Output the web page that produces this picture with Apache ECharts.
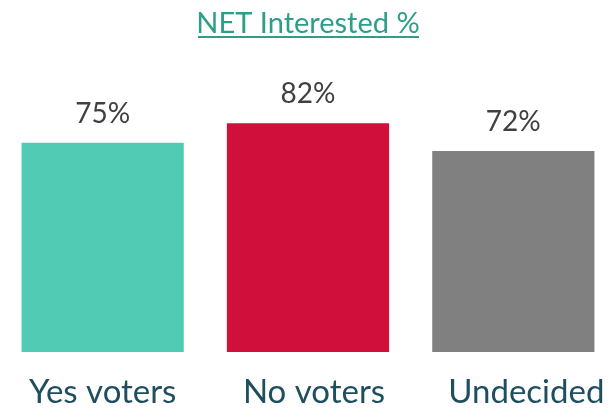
<!DOCTYPE html>
<html>
<head>
<meta charset="utf-8">
<script src="https://cdn.jsdelivr.net/npm/echarts@6/dist/echarts.min.js"></script>
<style>html,body{margin:0;padding:0;background:#fff}#c{width:616px;height:411px}</style>
</head>
<body>
<div id="c"></div>
<script>
const categories = ["Yes voters", "No voters", "Undecided"];
const values = [75, 82, 72];
const barColors = ["#52CBB5", "#D0103A", "#808080"];
const titleText = "NET Interested %";

const labelStyles = ['l0', 'l1', 'l2'];
const chart = echarts.init(document.getElementById('c'), null, {renderer: 'canvas'});
const baseLbl = {fontFamily: 'Lato', fontSize: 33, color: '#1F4E5F'};
chart.setOption({
  animation: false,
  backgroundColor: '#ffffff',
  title: {
    text: titleText,
    left: 'center',
    top: 4,
    textStyle: {fontFamily: 'Lato', fontSize: 29, fontWeight: 'normal', color: '#2E9E88'}
  },
  graphic: [{
    type: 'rect',
    shape: {x: 198, y: 36, width: 221, height: 2},
    style: {fill: '#2E9E88'}
  }],
  grid: {left: 0, right: 0, top: 73, bottom: 59, containLabel: false},
  xAxis: {
    type: 'category',
    data: categories,
    axisLine: {show: false},
    axisTick: {show: false},
    axisLabel: {
      fontFamily: 'Lato', fontSize: 33, color: '#1F4E5F', margin: 24, interval: 0,
      formatter: function (v, i) { return '{' + labelStyles[i] + '|' + v + '}'; },
      rich: {
        l0: Object.assign({}, baseLbl),
        l1: Object.assign({padding: [0, 0, 0, 12]}, baseLbl),
        l2: Object.assign({padding: [0, 0, 0, 26]}, baseLbl)
      }
    }
  },
  yAxis: {type: 'value', min: 0, max: 100, show: false, splitLine: {show: false}},
  series: [{
    type: 'bar',
    data: values.map((v, i) => ({value: v, itemStyle: {color: barColors[i]}})),
    barCategoryGap: '21%',
    label: {
      show: true,
      position: 'top',
      distance: 15,
      formatter: '{c}%',
      fontFamily: 'Lato',
      fontSize: 28,
      color: '#404040'
    }
  }]
});
</script>
</body>
</html>
